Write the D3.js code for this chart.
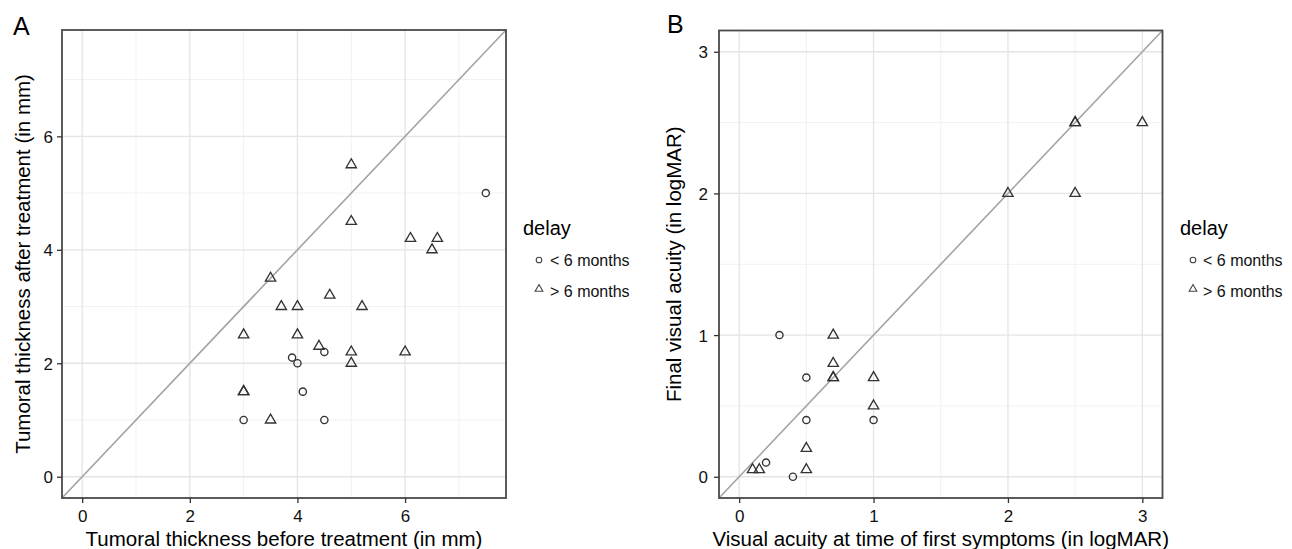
<!DOCTYPE html>
<html>
<head>
<meta charset="utf-8">
<script src="https://cdn.jsdelivr.net/npm/d3@7"></script>
<style>
  html, body { margin: 0; padding: 0; background: #fff; }
  svg { display: block; font-family: "Liberation Sans", Arial, Helvetica, sans-serif; }
</style>
</head>
<body>
<svg id="chart" width="1292" height="549"></svg>
<script>
// ---------------- Data ----------------
// Panel A: tumoral thickness (mm)
const aCircleX = [7.5, 3.9, 4.0, 4.5, 4.1, 3.0, 4.5];
const aCircleY = [5.0, 2.1, 2.0, 2.2, 1.5, 1.0, 1.0];
const aTriX = [5.0, 5.0, 6.1, 6.6, 6.5, 3.5, 4.6, 3.7, 4.0, 5.2, 3.0, 4.0, 4.4, 5.0, 6.0, 5.0, 3.0, 3.0, 3.5];
const aTriY = [5.5, 4.5, 4.2, 4.2, 4.0, 3.5, 3.2, 3.0, 3.0, 3.0, 2.5, 2.5, 2.3, 2.2, 2.2, 2.0, 1.5, 1.5, 1.0];
// Panel B: visual acuity (logMAR)
const bCircleX = [0.3, 0.5, 0.5, 1.0, 0.2, 0.4];
const bCircleY = [1.0, 0.7, 0.4, 0.4, 0.1, 0.0];
const bTriX = [0.7, 0.7, 0.7, 0.7, 1.0, 1.0, 0.5, 0.5, 0.1, 0.15, 2.0, 2.5, 2.5, 2.5, 3.0];
const bTriY = [1.0, 0.8, 0.7, 0.7, 0.7, 0.5, 0.2, 0.05, 0.05, 0.05, 2.0, 2.5, 2.5, 2.0, 2.5];

const aMajorTicks = [0, 2, 4, 6];
const aMinorTicks = [1, 3, 5, 7];
const bMajorTicks = [0, 1, 2, 3];
const bMinorTicks = [0.5, 1.5, 2.5];

const aDomain = [-0.375, 7.875];
const bDomain = [-0.15, 3.15];

const legendTitle = "delay";
const legendLabels = ["< 6 months", "> 6 months"];

const panels = [
  {
    letter: "A",
    domain: aDomain, major: aMajorTicks, minor: aMinorTicks,
    circX: aCircleX, circY: aCircleY, triX: aTriX, triY: aTriY,
    xTitle: "Tumoral thickness before treatment (in mm)",
    yTitle: "Tumoral thickness after treatment (in mm)",
    box: { left: 62, right: 506, top: 30, bottom: 498 },
    letterPos: [13, 35], yTitleX: 30, yLabelPad: 4,
    legend: { titleX: 523, symX: 539, textX: 550 }
  },
  {
    letter: "B",
    domain: bDomain, major: bMajorTicks, minor: bMinorTicks,
    circX: bCircleX, circY: bCircleY, triX: bTriX, triY: bTriY,
    xTitle: "Visual acuity at time of first symptoms (in logMAR)",
    yTitle: "Final visual acuity (in logMAR)",
    box: { left: 719, right: 1162.5, top: 30.5, bottom: 498 },
    letterPos: [667, 33], yTitleX: 681, yLabelPad: 6,
    legend: { titleX: 1180, symX: 1193, textX: 1203 }
  }
];

const svg = d3.select("#chart");
const pointColor = "#333";

panels.forEach(p => {
  const b = p.box;
  const x = d3.scaleLinear().domain(p.domain).range([b.left, b.right]);
  const y = d3.scaleLinear().domain(p.domain).range([b.bottom, b.top]);
  const g = svg.append("g");

  // minor grid
  g.append("g").selectAll("line.vminor").data(p.minor).join("line")
    .attr("x1", d => x(d)).attr("x2", d => x(d)).attr("y1", b.top).attr("y2", b.bottom)
    .attr("stroke", "#f1f1f1").attr("stroke-width", 1);
  g.append("g").selectAll("line.hminor").data(p.minor).join("line")
    .attr("y1", d => y(d)).attr("y2", d => y(d)).attr("x1", b.left).attr("x2", b.right)
    .attr("stroke", "#f1f1f1").attr("stroke-width", 1);
  // major grid
  g.append("g").selectAll("line.vmajor").data(p.major).join("line")
    .attr("x1", d => x(d)).attr("x2", d => x(d)).attr("y1", b.top).attr("y2", b.bottom)
    .attr("stroke", "#e4e4e4").attr("stroke-width", 1.3);
  g.append("g").selectAll("line.hmajor").data(p.major).join("line")
    .attr("y1", d => y(d)).attr("y2", d => y(d)).attr("x1", b.left).attr("x2", b.right)
    .attr("stroke", "#e4e4e4").attr("stroke-width", 1.3);

  // identity line y = x
  g.append("line")
    .attr("x1", x(p.domain[0])).attr("y1", y(p.domain[0]))
    .attr("x2", x(p.domain[1])).attr("y2", y(p.domain[1]))
    .attr("stroke", "#a3a3a3").attr("stroke-width", 1.6);

  // points: circles
  const circData = p.circX.map((v, i) => ({ x: v, y: p.circY[i] }));
  g.append("g").selectAll("circle").data(circData).join("circle")
    .attr("cx", d => x(d.x)).attr("cy", d => y(d.y)).attr("r", 3.6)
    .attr("fill", "none").attr("stroke", pointColor).attr("stroke-width", 1.35);
  // points: triangles
  const triData = p.triX.map((v, i) => ({ x: v, y: p.triY[i] }));
  const tri = d3.symbol(d3.symbolTriangle, 46);
  g.append("g").selectAll("path").data(triData).join("path")
    .attr("d", tri)
    .attr("transform", d => `translate(${x(d.x)},${y(d.y)})`)
    .attr("fill", "none").attr("stroke", pointColor).attr("stroke-width", 1.35);

  // panel border
  g.append("rect")
    .attr("x", b.left).attr("y", b.top)
    .attr("width", b.right - b.left).attr("height", b.bottom - b.top)
    .attr("fill", "none").attr("stroke", "#4a4a4a").attr("stroke-width", 1.8);

  // axes
  const xAxis = d3.axisBottom(x).tickValues(p.major).tickSize(5).tickPadding(7).tickFormat(d3.format("d"));
  const ax = g.append("g").attr("transform", `translate(0,${b.bottom})`).call(xAxis);
  const yAxis = d3.axisLeft(y).tickValues(p.major).tickSize(5).tickPadding(p.yLabelPad).tickFormat(d3.format("d"));
  const ay = g.append("g").attr("transform", `translate(${b.left},0)`).call(yAxis);
  [ax, ay].forEach(a => {
    a.select(".domain").remove();
    a.selectAll(".tick line").attr("stroke", "#333").attr("stroke-width", 1.3);
    a.selectAll(".tick text").attr("fill", "#111").style("font-size", "17px")
      .style("font-family", "'Liberation Sans', Arial, sans-serif");
  });
  ay.selectAll(".tick text").attr("dy", "0.35em");

  // axis titles
  g.append("text")
    .attr("x", (b.left + b.right) / 2).attr("y", 546)
    .attr("text-anchor", "middle").attr("fill", "#000").style("font-size", "20.5px")
    .text(p.xTitle);
  g.append("text")
    .attr("transform", `translate(${p.yTitleX},${(b.top + b.bottom) / 2}) rotate(-90)`)
    .attr("text-anchor", "middle").attr("fill", "#000").style("font-size", "20.5px")
    .text(p.yTitle);

  // panel letter
  g.append("text")
    .attr("x", p.letterPos[0]).attr("y", p.letterPos[1])
    .attr("fill", "#000").style("font-size", "25px")
    .text(p.letter);

  // legend
  const L = p.legend;
  g.append("text").attr("x", L.titleX).attr("y", 235)
    .attr("fill", "#000").style("font-size", "20px").text(legendTitle);
  g.append("circle").attr("cx", L.symX).attr("cy", 260).attr("r", 2.8)
    .attr("fill", "none").attr("stroke", "#444").attr("stroke-width", 1.1);
  g.append("path").attr("d", d3.symbol(d3.symbolTriangle, 26))
    .attr("transform", `translate(${L.symX},${289})`)
    .attr("fill", "none").attr("stroke", "#444").attr("stroke-width", 1.1);
  legendLabels.forEach((lab, i) => {
    g.append("text").attr("x", L.textX).attr("y", 266 + i * 30.5)
      .attr("fill", "#111").style("font-size", "16px").text(lab);
  });
});
</script>
</body>
</html>
